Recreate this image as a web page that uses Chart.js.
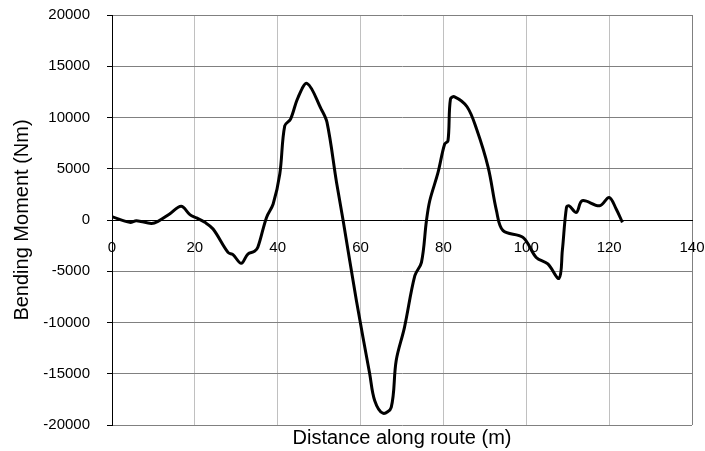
<!DOCTYPE html>
<html>
<head>
<meta charset="utf-8">
<script src="https://cdn.jsdelivr.net/npm/chart.js@4/dist/chart.umd.min.js"></script>
<style>
  html, body { margin: 0; padding: 0; background: #fff; }
  #wrap { width: 705px; height: 451px; }
</style>
</head>
<body>
<div id="wrap"><canvas id="chart"></canvas></div>
<script>
// distance along route (m) and bending moment (Nm)
const distance = [0, 4.3, 5.9, 9.5, 11.1, 13.9, 16.7, 18.8, 20.4, 22.4, 24.4, 28, 29.2, 31.2, 32.8, 34.4, 35.2, 37.3, 38.9, 40.5,
    41.7, 43.1, 44.9, 47.1, 50.5, 51.9, 54.2, 55.8, 59, 62.2, 63.4, 65.4, 67.4, 68.6, 70.6, 73.1, 74.7, 75.9, 76.7, 78.7,
    80.3, 81.1, 81.7, 82.7, 85.7, 88, 90.8, 92.8, 94.4, 99.2, 102.4, 105.2, 107.9, 108.7, 109.7, 110.3, 112.1, 113.5, 117.7, 120,
    121.7, 123.2];
const moment = [320, -230, -70, -330, -130, 585, 1330, 520, 200, -230, -880, -3160, -3380, -4230, -3320, -3060, -2670, 250, 1560, 4480,
    9190, 9850, 11950, 13320, 10820, 9520, 3670, -70, -7870, -15000, -17600, -18850, -18270, -13700, -10470, -5430, -4130, -70, 1880, 4640,
    7410, 7730, 11800, 12020, 11050, 8870, 5130, 910, -1040, -1700, -3650, -4290, -5690, -2990, 1230, 1390, 740, 1880, 1390, 2200,
    1070, -230];

const xTicks = [0, 20, 40, 60, 80, 100, 120, 140];
const yTicks = [-20000, -15000, -10000, -5000, 0, 5000, 10000, 15000, 20000];

const font = "'Liberation Sans', Arial, sans-serif";
const points = distance.map((d, i) => ({ x: d, y: moment[i] }));

new Chart(document.getElementById("chart"), {
    type: "scatter",
    data: {
        datasets: [{
            data: points,
            showLine: true,
            borderColor: "#000",
            borderWidth: 3,
            pointRadius: 0,
            tension: 0.35
        }]
    },
    options: {
        responsive: true,
        maintainAspectRatio: false,
        animation: false,
        layout: { padding: { top: 15, right: 13, left: 0, bottom: 0 } },
        plugins: { legend: { display: false }, tooltip: { enabled: false } },
        scales: {
            x: {
                type: "linear",
                min: 0, max: 140,
                position: { y: 0 },
                afterBuildTicks: s => { s.ticks = xTicks.map(v => ({ value: v })); },
                ticks: { color: "#000", font: { family: font, size: 15 }, padding: 19, maxRotation: 0,
                    callback: v => String(v) },
                grid: {
                    drawTicks: false,
                    color: c => c.tick && c.tick.value === 140 ? "#808080" : "#c0c0c0",
                    lineWidth: 1
                },
                border: { display: true, color: "#000", width: 1 },
                afterFit: s => { s.paddingLeft = 0; s.paddingRight = 0; }
            },
            x2: {
                type: "linear",
                axis: "x",
                min: 0, max: 140,
                position: "bottom",
                ticks: { display: false },
                grid: { display: false },
                border: { display: false },
                title: {
                    display: true,
                    text: "Distance along route (m)",
                    color: "#000",
                    font: { family: font, size: 20 },
                    padding: { top: 0, bottom: 1 }
                },
                afterFit: s => { s.height = 26; s.paddingLeft = 0; s.paddingRight = 0; }
            },
            y: {
                min: -20000, max: 20000,
                afterBuildTicks: s => { s.ticks = yTicks.map(v => ({ value: v })); },
                ticks: { color: "#000", font: { family: font, size: 15 }, padding: 17,
                    callback: v => String(v) },
                grid: {
                    color: c => c.tick && c.tick.value === 0 ? "#000" : "#808080",
                    tickColor: "#000",
                    tickLength: 5,
                    lineWidth: 1
                },
                border: { display: true, color: "#000", width: 1 },
                title: {
                    display: true,
                    text: "Bending Moment (Nm)",
                    color: "#000",
                    font: { family: font, size: 20 },
                    padding: { top: 10, bottom: 0 }
                },
                afterFit: s => { s.width = 112; s.paddingTop = 0; s.paddingBottom = 0; }
            }
        }
    }
});
</script>
</body>
</html>
